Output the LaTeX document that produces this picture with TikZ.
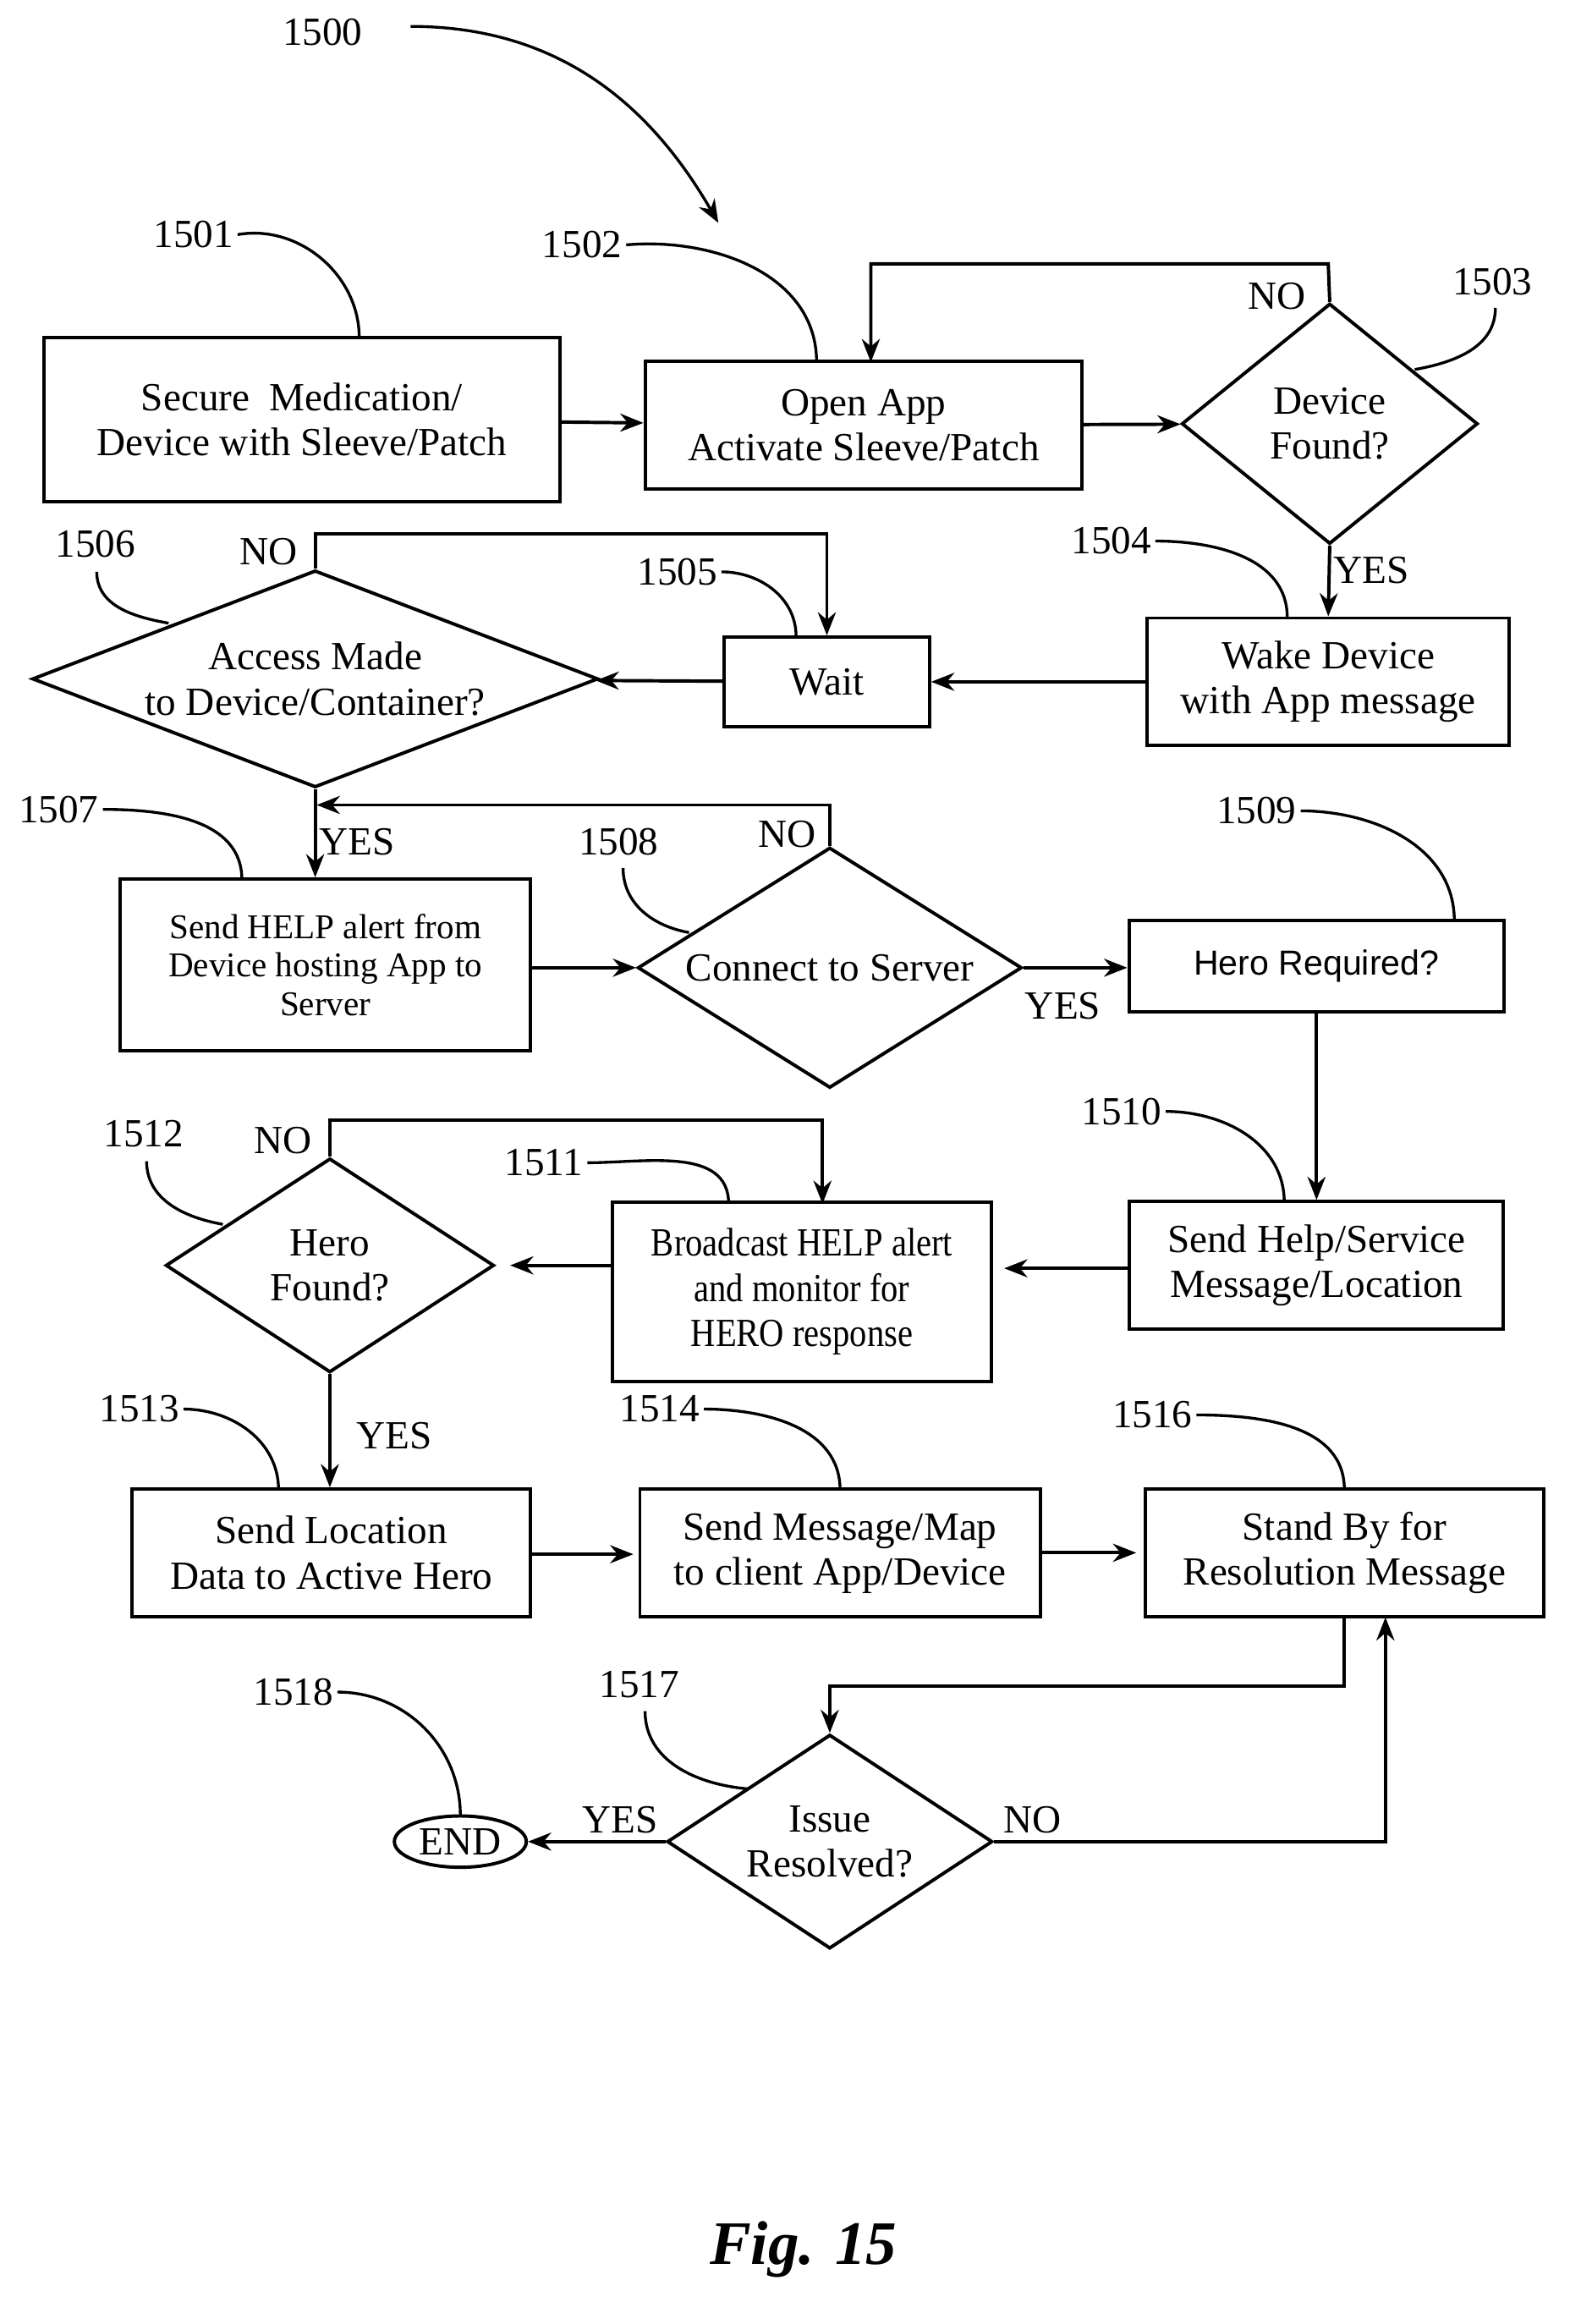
\documentclass[tikz,border=0pt]{standalone}
\usepackage{fontspec}
\setmainfont{Liberation Serif}
\setsansfont{Liberation Sans}
\newfontfamily\condfont[FakeStretch=0.86]{Liberation Serif}
\usetikzlibrary{shapes.geometric, arrows.meta}

\begin{document}
\begin{tikzpicture}[x=0.02cm, y=-0.02cm, line width=1.3pt, >={Stealth[length=9pt,width=7pt]},
  box/.style = {draw, rectangle, align=center, inner sep=2pt, font=\fontsize{15.5}{17.5}\selectfont},
  dec/.style = {draw, diamond, aspect=1, align=center, inner sep=0pt, font=\fontsize{15.5}{17.5}\selectfont},
  num/.style = {font=\fontsize{15.5}{17}\selectfont, inner sep=1pt},
  lead/.style = {line width=1.1pt}]
\useasboundingbox (0,0) rectangle (1078,1585);
% steps
\node[box, minimum width=352*0.02cm, minimum height=112*0.02cm] (secure) at (206,286) {Secure\ \ Medication/\\Device with Sleeve/Patch};
\node[box, minimum width=298*0.02cm, minimum height=87*0.02cm] (open) at (589,290) {Open App\\Activate Sleeve/Patch};
\node[dec, minimum width=202*0.02cm, minimum height=164*0.02cm, aspect=1.23] (found) at (907,289) {Device\\Found?};
\node[box, minimum width=247*0.02cm, minimum height=87*0.02cm] (wake) at (906,465) {Wake Device\\with App message};
\node[box, minimum width=140*0.02cm, minimum height=61*0.02cm] (wait) at (564,465) {Wait};
\node[dec, minimum width=386*0.02cm, minimum height=148*0.02cm, aspect=2.6] (access) at (215,463) {Access Made\\to Device/Container?};
\node[box, minimum width=280*0.02cm, minimum height=117*0.02cm, font=\fontsize{13.5}{15}\selectfont] (help) at (222,658) {Send HELP alert from\\Device hosting App to\\Server};
\node[dec, minimum width=262*0.02cm, minimum height=164*0.02cm, aspect=1.6] (server) at (566,660) {Connect to Server};
\node[box, minimum width=256*0.02cm, minimum height=62*0.02cm, font=\sffamily\fontsize{13.5}{15}\selectfont] (req) at (898,659) {Hero Required?};
\node[box, minimum width=255*0.02cm, minimum height=87*0.02cm] (service) at (898,863) {Send Help/Service\\Message/Location};
\node[box, minimum width=258*0.02cm, minimum height=122*0.02cm, font=\condfont\fontsize{15.5}{17.5}\selectfont] (bcast) at (547,881) {Broadcast HELP alert\\and monitor for\\HERO response};
\node[dec, minimum width=224*0.02cm, minimum height=146*0.02cm, aspect=1.53] (hero) at (225,863) {Hero\\Found?};
\node[box, minimum width=272*0.02cm, minimum height=87*0.02cm] (loc) at (226,1059) {Send Location\\Data to Active Hero};
\node[box, minimum width=273*0.02cm, minimum height=87*0.02cm] (map) at (573,1059) {Send Message/Map\\to client App/Device};
\node[box, minimum width=272*0.02cm, minimum height=87*0.02cm] (stand) at (917,1059) {Stand By for\\Resolution Message};
\node[dec, minimum width=222*0.02cm, minimum height=146*0.02cm, aspect=1.52] (issue) at (566,1256) {Issue\\Resolved?};
\node[draw, ellipse, minimum width=90*0.02cm, minimum height=35*0.02cm, inner sep=0pt, font=\fontsize{15.5}{17}\selectfont] (end) at (314,1256) {END};
% reference numbers
\node[num] (n1500) at (220,22) {1500};
\node[num] (n1501) at (132,160) {1501};
\node[num] (n1502) at (397,167) {1502};
\node[num] (n1503) at (1018,192) {1503};
\node[num] (n1504) at (758,369) {1504};
\node[num] (n1505) at (462,390) {1505};
\node[num] (n1506) at (65,371) {1506};
\node[num] (n1507) at (40,552) {1507};
\node[num] (n1508) at (422,574) {1508};
\node[num] (n1509) at (857,553) {1509};
\node[num] (n1510) at (765,758) {1510};
\node[num] (n1511) at (371,793) {1511};
\node[num] (n1512) at (98,773) {1512};
\node[num] (n1513) at (95,961) {1513};
\node[num] (n1514) at (450,961) {1514};
\node[num] (n1516) at (786,965) {1516};
\node[num] (n1517) at (436,1149) {1517};
\node[num] (n1518) at (200,1154) {1518};
% leaders
\draw[->, lead] (280,18) to[out=0, in=120] (490,152);
\draw[lead] (n1501.east) to[out=10, in=90] (245,230);
\draw[lead] (n1502.east) to[out=5, in=90] (557,247);
\draw[lead] (1020,210) to[out=-90, in=10] (965,252);
\draw[lead] (n1504.east) to[out=0, in=90] (878,421);
\draw[lead] (n1505.east) to[out=0, in=90] (543,434);
\draw[lead] (66,390) to[out=-90, in=170] (115,425);
\draw[lead] (n1507.east) to[out=0, in=90] (165,600);
\draw[lead] (425,592) to[out=-90, in=170] (470,636);
\draw[lead] (n1509.east) to[out=0, in=90] (992,628);
\draw[lead] (n1510.east) to[out=0, in=90] (876,820);
\draw[lead] (n1511.east) to[out=0, in=90] (497,821);
\draw[lead] (100,792) to[out=-90, in=170] (152,835);
\draw[lead] (n1513.east) to[out=0, in=90] (190,1016);
\draw[lead] (n1514.east) to[out=0, in=90] (573,1016);
\draw[lead] (n1516.east) to[out=0, in=90] (917,1016);
\draw[lead] (440,1167) to[out=-90, in=175] (510,1220);
\draw[lead] (n1518.east) to[out=0, in=90] (314,1238);
% flow
\draw[->] (secure) -- (open);
\draw[->] (open) -- (found);
\draw[->] (found.north) -- (906,180) -| (594,247);
\node[num] at (871,202) {NO};
\draw[->] (found.south) -- (wake.north) node[num, pos=0.35, right] {YES};
\draw[->] (wake) -- (wait);
\draw[->] (wait) -- (access);
\draw[->] (access.north) -- (215,364) -| (wait.north);
\node[num] at (183,376) {NO};
\draw[->] (access.south) -- (help.north -| access.south) node[num, pos=0.6, right] {YES};
\draw[->] (help.east |- server) -- (server.west);
\draw[->] (server.north) -- (566,549) -- (216,549);
\node[num] at (537,569) {NO};
\draw[->] (server.east) -- (req.west |- server.east);
\node[num] at (725,686) {YES};
\draw[->] (req.south) -- (service.north);
\draw[->] (service.west |- 0,865) -- (685,865);
\draw[->] (bcast.west |- 0,863) -- (348,863);
\draw[->] (hero.north) -- (225,764) -| (561,821);
\node[num] at (193,778) {NO};
\draw[->] (hero.south) -- (loc.north -| hero.south);
\node[num] at (269,979) {YES};
\draw[->] (loc.east |- 0,1060) -- (432,1060);
\draw[->] (map) -- (775,1059);
\draw[->] (917,1103) -- (917,1150) -| (issue.north);
\draw[->] (issue.east) -| (945,1103);
\node[num] at (704,1241) {NO};
\draw[->] (issue.west) -- (end.east);
\node[num] at (423,1241) {YES};
\node[font=\bfseries\itshape\fontsize{24}{26}\selectfont] (fig) at (548,1534) {Fig. 15};
\end{tikzpicture}
\end{document}
